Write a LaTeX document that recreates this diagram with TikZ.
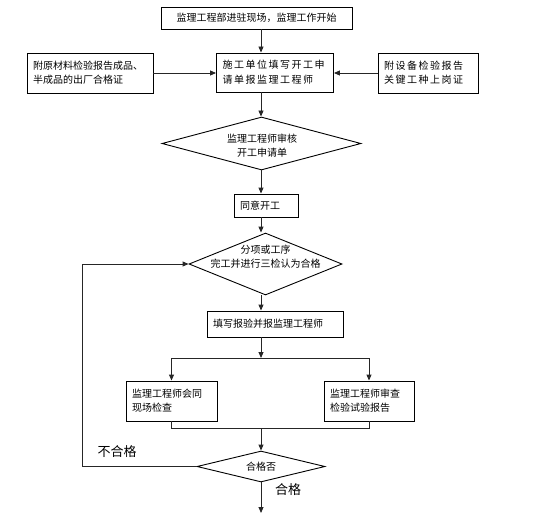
\documentclass[tikz,border=0pt]{standalone}
\usepackage{fontspec}
\newfontfamily\cjk{Noto Sans CJK SC}
\newfontfamily\cjkkuan[LetterSpace=15]{Noto Sans CJK SC}
\usepackage{tikz}
\usetikzlibrary{arrows.meta, positioning, calc, shapes.geometric}

\tikzset{
    kuang/.style={draw, line width=0.9pt, inner xsep=6pt, inner ysep=0pt, align=left,
        font=\cjk\fontsize{10}{14}\selectfont},
    pan/.style={draw, diamond, line width=0.9pt, inner sep=0pt},
    wenzi/.style={align=center, font=\cjk\fontsize{10}{14}\selectfont},
    xian/.style={line width=0.9pt, draw=black!85},
    jian/.style={xian, -{Triangle[length=6pt, width=5pt]}}
}

\begin{document}
\begin{tikzpicture}[x=1pt, y=-1pt]
    \useasboundingbox (0,0) rectangle (537,513);

    \node[kuang, align=center, text width=179pt, minimum height=22pt] (kaishi) at (256.5,18) {监理工程部进驻现场，监理工作开始};
    \node[kuang, text width=105pt, minimum height=39pt, font=\cjkkuan\fontsize{10}{15}\selectfont] (shenqing) at (275,72.5) {施工单位填写开工申\\请单报监理工程师};
    \node[kuang, text width=114pt, minimum height=40pt] (cailiao) at (90,73) {附原材料检验报告成品、\\半成品的出厂合格证};
    \node[kuang, text width=88pt, minimum height=40pt, font=\cjkkuan\fontsize{10}{14}\selectfont] (shebei) at (428,73) {附设备检验报告\\关键工种上岗证};

    \node[pan, minimum width=199pt, minimum height=53pt] (shenhe) at (261.5,143.5) {};
    \node[wenzi] (shenhe-t) at (262,146) {监理工程师审核\\开工申请单};

    \node[kuang, text width=52pt, minimum height=23pt] (tongyi) at (266,205.5) {同意开工};

    \node[pan, minimum width=153pt, minimum height=62pt] (fenxiang) at (265.5,264) {};
    \node[wenzi] (fenxiang-t) at (265.5,256.5) {分项或工序\\完工并进行三检认为合格};

    \node[kuang, text width=124pt, minimum height=26pt] (baoyan) at (275,324) {填写报验并报监理工程师};

    \node[kuang, text width=79pt, minimum height=40pt] (jiancha) at (171.5,401) {监理工程师会同\\现场检查};
    \node[kuang, text width=78pt, minimum height=40pt] (shencha) at (369,401) {监理工程师审查\\检验试验报告};

    \node[pan, minimum width=128pt, minimum height=31pt] (hege) at (261,466.5) {};
    \node[wenzi] (hege-t) at (hege) {合格否};

    \node[font=\cjk\fontsize{13}{15}\selectfont] (buhege-l) at (117,452) {不合格};
    \node[font=\cjk\fontsize{13}{15}\selectfont] (hege-l) at (288,490) {合格};

    \coordinate (zhou) at (261,0);
    \coordinate (fen) at (261,358);
    \coordinate (he) at (261,428);
    \coordinate (huan) at (82,0);
    \coordinate (jieshu) at (261,513);

    \draw[jian] (kaishi.south -| zhou) -- (shenqing.north -| zhou);
    \draw[jian] (cailiao.east) -- (shenqing.west |- cailiao.east);
    \draw[jian] (shebei.west) -- (shenqing.east |- shebei.west);
    \draw[jian] (shenqing.south -| zhou) -- (shenhe.north -| zhou);
    \draw[jian] (shenhe.south -| zhou) -- (tongyi.north -| zhou);
    \draw[jian] (tongyi.south -| zhou) -- (fenxiang.north -| zhou);
    \draw[jian] (fenxiang.south -| zhou) -- (baoyan.north -| zhou);
    \draw[jian] (baoyan.south -| zhou) -- (fen);
    \draw[xian] (fen -| jiancha) -- (fen -| shencha);
    \draw[jian] (fen -| jiancha) -- (jiancha.north);
    \draw[jian] (fen -| shencha) -- (shencha.north);
    \draw[xian] (jiancha.south) -- (he -| jiancha) -- (he -| shencha) -- (shencha.south);
    \draw[jian] (he) -- (hege.north);
    \draw[jian] (hege.west) -- (huan |- hege.west) -- (huan |- fenxiang.west) -- (fenxiang.west);
    \draw[jian] (hege.south) -- (jieshu);
\end{tikzpicture}
\end{document}
